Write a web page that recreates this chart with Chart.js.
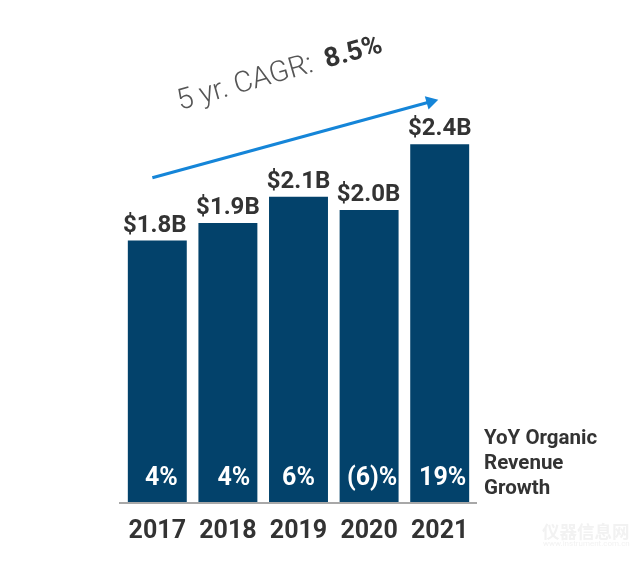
<!DOCTYPE html>
<html>
<head>
<meta charset="utf-8">
<script src="https://cdn.jsdelivr.net/npm/chart.js@4"></script>
<style>
  html, body { margin: 0; padding: 0; background: #fff; }
  canvas { display: block; }
</style>
</head>
<body>
<canvas id="revenue_chart" width="641" height="561"></canvas>
<script>
  const years = ['2017', '2018', '2019', '2020', '2021'];
  const revenue = [1.79, 1.91, 2.09, 2.0, 2.45];
  const revenueLabels = ['$1.8B', '$1.9B', '$2.1B', '$2.0B', '$2.4B'];
  const growthLabels = ['4%', '4%', '6%', '(6)%', '19%'];
  const labelNudge = [-2.5, 0, 0, -0.5, 0];
  const growthNudge = [4, 6, 0, 3, 3];
  const sideLabel = ['YoY Organic', 'Revenue', 'Growth'];
  // trend arrow, x in category units on a hidden linear axis
  const arrowX = [-0.07, 3.87];
  const arrowY = [2.22, 2.74];

  const navy = '#03426b';
  const ink = '#333333';
  const fontName = 'Roboto, sans-serif';

  const labelsPlugin = {
    id: 'labels',
    afterDatasetsDraw(chart) {
      const ctx = chart.ctx;
      const bars = chart.getDatasetMeta(1).data;
      const area = chart.chartArea;
      ctx.save();

      // axis line runs a bit past the plot area
      ctx.strokeStyle = '#a8a8a8';
      ctx.lineWidth = 2;
      ctx.beginPath();
      ctx.moveTo(area.left - 3, area.bottom + 1);
      ctx.lineTo(area.right + 2, area.bottom + 1);
      ctx.stroke();

      ctx.textAlign = 'center';
      ctx.textBaseline = 'alphabetic';
      bars.forEach((bar, i) => {
        ctx.font = 'bold 24px ' + fontName;
        ctx.fillStyle = ink;
        ctx.fillText(revenueLabels[i], bar.x + labelNudge[i], bar.y - 9);
        ctx.font = 'bold 25px ' + fontName;
        ctx.fillStyle = '#fff';
        ctx.fillText(growthLabels[i], bar.x + growthNudge[i], area.bottom - 17);
      });

      ctx.textAlign = 'left';
      ctx.fillStyle = ink;
      ctx.font = 'bold 20.5px ' + fontName;
      sideLabel.forEach((t, i) => ctx.fillText(t, 484, 444 + i * 25));

      // CAGR caption
      ctx.save();
      ctx.translate(180, 110);
      ctx.rotate(-16 * Math.PI / 180);
      ctx.fillStyle = '#555';
      ctx.font = '300 29px ' + fontName;
      ctx.fillText('5 yr. CAGR:', 0, 0);
      ctx.fillStyle = ink;
      ctx.font = 'bold 27px ' + fontName;
      ctx.fillText('8.5%', 153, 0);
      ctx.restore();

      // watermark
      ctx.fillStyle = '#f2f2f2';
      ctx.font = 'bold 17.5px "Noto Sans CJK SC"';
      ctx.fillText('仪器信息网', 542, 538);
      ctx.font = '8px ' + fontName;
      ctx.fillText('www.instrument.com.cn', 543, 546);
      ctx.restore();
    }
  };

  new Chart(document.getElementById('revenue_chart'), {
    type: 'bar',
    plugins: [labelsPlugin],
    data: {
      labels: years,
      datasets: [
        {
          type: 'line',
          xAxisID: 'xArrow',
          data: arrowX.map((x, i) => ({ x: x, y: arrowY[i] })),
          borderColor: '#1585d8',
          backgroundColor: '#1585d8',
          borderWidth: 3,
          pointRadius: [0, 8],
          pointStyle: 'triangle',
          rotation: 74.5,
          pointBorderWidth: 0
        },
        {
          data: revenue,
          backgroundColor: navy,
          grouped: false,
          categoryPercentage: 1,
          barPercentage: 0.835
        }
      ]
    },
    options: {
      responsive: false,
      animation: false,
      layout: { padding: { left: 122, right: 166, top: 20, bottom: 7 } },
      plugins: { legend: { display: false }, tooltip: { enabled: false } },
      scales: {
        x: {
          grid: { display: false },
          border: { display: false },
          ticks: {
            color: ink,
            padding: 7,
            maxRotation: 0,
            font: { family: fontName, size: 25, weight: 'bold' }
          }
        },
        xArrow: { axis: 'x', type: 'linear', display: false, offset: false, min: -0.5, max: 4.5 },
        y: { display: false, min: 0, max: 3.3 }
      }
    }
  });
</script>
</body>
</html>
